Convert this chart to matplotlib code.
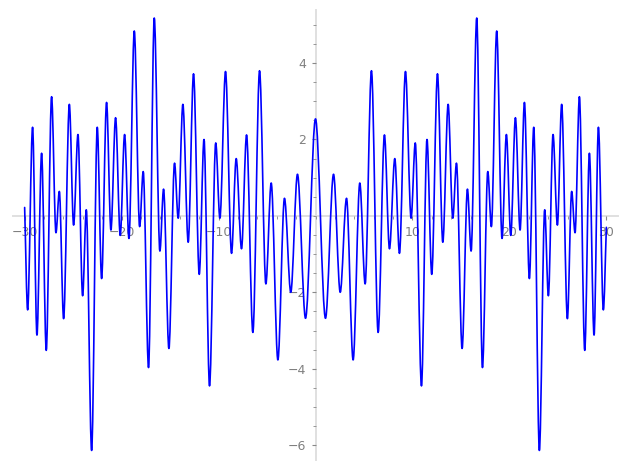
import matplotlib
matplotlib.use('Agg')
import matplotlib.pyplot as plt
from matplotlib.path import Path
from matplotlib.patches import PathPatch
from matplotlib.ticker import FixedLocator, MultipleLocator

# ---- data (function is even: right half mirrored) ----
center_x = 0.0
center_y = 2.54
right_ext_x = [1.03, 1.86, 2.55, 3.20, 3.88, 4.57, 5.12, 5.77, 6.46, 7.11,
               7.63, 8.18, 8.66, 9.28, 9.86, 10.29, 10.93, 11.50, 11.99, 12.58,
               13.13, 13.68, 14.16, 14.54, 15.12, 15.67, 16.05, 16.63, 17.22, 17.77,
               18.14, 18.69, 19.24, 19.69, 20.14, 20.62, 21.10, 21.55, 22.06, 22.51,
               23.09, 23.64, 24.02, 24.50, 24.95, 25.39, 25.98, 26.42, 26.77, 27.22,
               27.77, 28.25, 28.73, 29.18, 29.69]
right_ext_y = [-2.68, 1.09, -2.00, 0.46, -3.77, 0.86, -1.78, 3.80, -3.05, 2.12,
               -0.86, 1.50, -0.98, 3.78, -0.06, 1.91, -4.45, 2.00, -1.53, 3.72,
               -0.69, 2.92, -0.06, 1.38, -3.47, 0.70, -0.92, 5.18, -3.97, 1.16,
               -0.28, 4.84, -0.59, 2.13, -0.51, 2.57, -0.37, 2.97, -1.64, 2.32,
               -6.14, 0.16, -2.09, 2.13, -0.24, 2.92, -2.69, 0.64, -0.44, 3.12,
               -3.52, 1.64, -3.12, 2.32, -2.46]
x_start, y_start = -30.0, 0.22
x_end, y_end = 30.0, -0.30

x_major = [-30, -20, -10, 10, 20, 30]
y_major = [-6, -4, -2, 2, 4]

xs = [x_start] + [-v for v in reversed(right_ext_x)] + [center_x] + right_ext_x + [x_end]
ys = [y_start] + list(reversed(right_ext_y)) + [center_y] + right_ext_y + [y_end]

# ---- build smooth path (cubic Bezier between consecutive extrema) ----
verts = [(xs[0], ys[0])]
codes = [Path.MOVETO]
n = len(xs)
for i in range(n - 1):
    x0, y0, x1, y1 = xs[i], ys[i], xs[i + 1], ys[i + 1]
    dx = x1 - x0
    if i == 0:
        c1 = (x0 + dx / 3, y0 + (y1 - y0) / 3)
    else:
        c1 = (x0 + dx / 3, y0)
    if i == n - 2:
        c2 = (x1 - dx / 3, y1 - (y1 - y0) / 3)
    else:
        c2 = (x1 - dx / 3, y1)
    verts += [c1, c2, (x1, y1)]
    codes += [Path.CURVE4] * 3

fig = plt.figure(figsize=(6.27, 4.70), dpi=100)
ax = fig.add_axes([13 / 627, 10 / 470, 605 / 627, 450 / 470])
ax.set_xlim(-31.2, 31.2)
ax.set_ylim(-6.39, 5.39)

patch = PathPatch(Path(verts, codes), facecolor='none', edgecolor='#0000ff',
                  lw=1.2, joinstyle='round', capstyle='round', zorder=3)
ax.add_patch(patch)

for s in ['top', 'right']:
    ax.spines[s].set_visible(False)
ax.spines['left'].set_position(('data', 0))
ax.spines['bottom'].set_position(('data', 0))
for s in ['left', 'bottom']:
    ax.spines[s].set_color('#e0e0e0')
    ax.spines[s].set_linewidth(1.4)
    ax.spines[s].set_zorder(1)

ax.xaxis.set_major_locator(FixedLocator(x_major))
ax.yaxis.set_major_locator(FixedLocator(y_major))
ax.xaxis.set_minor_locator(MultipleLocator(2))
ax.yaxis.set_minor_locator(MultipleLocator(0.5))
ax.tick_params(which='major', length=3, width=0.8, color='#888888',
               labelcolor='#808080', labelsize=9, pad=4)
ax.tick_params(which='minor', length=2, width=0.6, color='#888888')
ax.patch.set_alpha(0)

fig.savefig('out.png', dpi=100)
